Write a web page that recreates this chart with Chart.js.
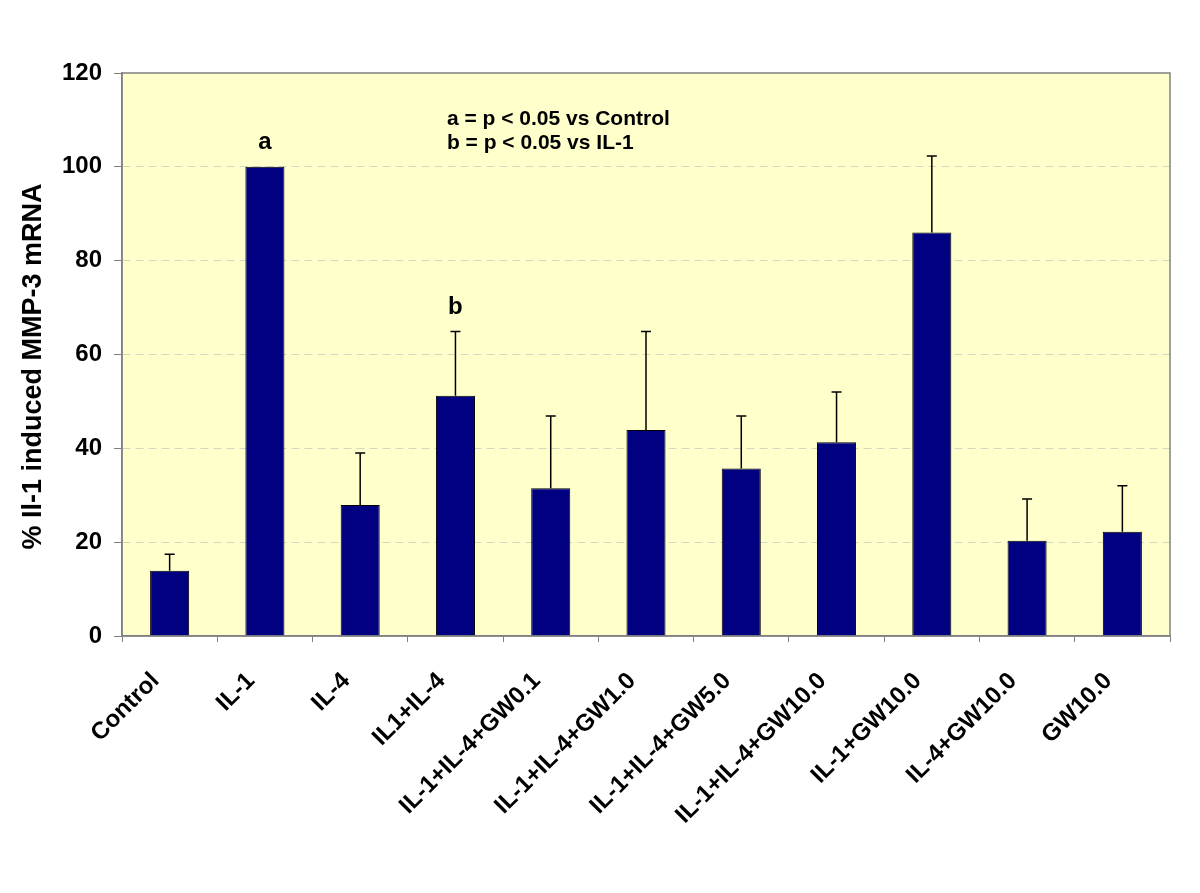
<!DOCTYPE html>
<html>
<head>
<meta charset="utf-8">
<script src="https://cdn.jsdelivr.net/npm/chart.js@4.4.1/dist/chart.umd.min.js"></script>
<style>
  html, body { margin: 0; padding: 0; background: #ffffff; }
  #wrap { width: 1200px; height: 893px; }
</style>
</head>
<body>
<div id="wrap"><canvas id="mmpChart" width="1200" height="893"></canvas></div>
<script>
const categories = ['Control', 'IL-1', 'IL-4', 'IL1+IL-4', 'IL-1+IL-4+GW0.1', 'IL-1+IL-4+GW1.0',
    'IL-1+IL-4+GW5.0', 'IL-1+IL-4+GW10.0', 'IL-1+GW10.0', 'IL-4+GW10.0', 'GW10.0'];
const meanValues = [13.9, 100, 27.9, 51.2, 31.5, 43.9, 35.7, 41.3, 86.0, 20.3, 22.2];
const errorValues = [3.5, 0, 11.1, 13.7, 15.4, 21.0, 11.2, 10.7, 16.3, 8.9, 9.8];
const sigLetters = ['', 'a', '', 'b', '', '', '', '', '', '', ''];
const yTickValues = [0, 20, 40, 60, 80, 100, 120];
const yTitle = '% Il-1 induced MMP-3 mRNA';
const noteLines = ['a = p < 0.05 vs Control', 'b = p < 0.05 vs IL-1'];

const FONT = '"Liberation Sans", Arial, sans-serif';
const PLOT_BG = '#FFFFCC';
const FRAME = '#808080';

// fond jaune + cadre gris de la zone de tracé, titre de l'axe Y
const plotFrame = {
    id: 'plotFrame',
    beforeDraw(chart) {
        const { ctx, chartArea: a } = chart;
        ctx.save();
        ctx.fillStyle = PLOT_BG;
        ctx.fillRect(a.left, a.top, a.right - a.left, a.bottom - a.top);
        ctx.restore();
    },
    afterDraw(chart) {
        const { ctx, chartArea: a } = chart;
        ctx.save();
        ctx.strokeStyle = FRAME;
        ctx.lineWidth = 1.5;
        ctx.strokeRect(a.left, a.top, a.right - a.left, a.bottom - a.top);

        // le titre est un peu plus bas que le milieu dans l'original
        ctx.translate(34, (a.top + a.bottom) / 2 + 12);
        ctx.rotate(-Math.PI / 2);
        ctx.fillStyle = '#000000';
        ctx.font = 'bold 27px ' + FONT;
        ctx.textAlign = 'center';
        ctx.textBaseline = 'middle';
        ctx.fillText(yTitle, 0, 0);
        ctx.restore();
    }
};

// barres d'erreur (vers le haut seulement) et lettres de significativité
const errorBars = {
    id: 'errorBars',
    afterDatasetsDraw(chart) {
        const { ctx, scales: { x, y }, chartArea: a } = chart;
        ctx.save();
        ctx.strokeStyle = '#000000';
        ctx.lineWidth = 1.5;
        meanValues.forEach((v, i) => {
            const cx = x.getPixelForValue(i);
            const top = y.getPixelForValue(v + errorValues[i]);
            if (errorValues[i] > 0) {
                ctx.beginPath();
                ctx.moveTo(cx, y.getPixelForValue(v));
                ctx.lineTo(cx, top);
                ctx.moveTo(cx - 5, top);
                ctx.lineTo(cx + 5, top);
                ctx.stroke();
            }
            if (sigLetters[i]) {
                ctx.fillStyle = '#000000';
                ctx.font = 'bold 24px ' + FONT;
                ctx.textAlign = 'center';
                ctx.textBaseline = 'middle';
                ctx.fillText(sigLetters[i], cx, top - 24);
            }
        });

        ctx.fillStyle = '#000000';
        ctx.font = 'bold 21px ' + FONT;
        ctx.textAlign = 'left';
        ctx.textBaseline = 'middle';
        const nx = a.left + (a.right - a.left) * 0.31;
        noteLines.forEach((t, k) => {
            ctx.fillText(t, nx, a.top + 46 + k * 24);
        });
        ctx.restore();
    }
};

const ctx = document.getElementById('mmpChart').getContext('2d');
const chart = new Chart(ctx, {
    type: 'bar',
    data: {
        labels: categories,
        datasets: [{
            label: yTitle,
            data: meanValues,
            backgroundColor: '#000080',
            borderColor: '#000000',
            borderWidth: 1,
            barPercentage: 0.41,
            categoryPercentage: 1.0
        }]
    },
    options: {
        responsive: false,
        animation: false,
        layout: { padding: { top: 73, right: 30, left: 0, bottom: 0 } },
        plugins: {
            legend: { display: false },
            tooltip: { enabled: false }
        },
        scales: {
            x: {
                afterFit: (scale) => { scale.height = 893 - 636; },
                grid: {
                    drawOnChartArea: false,
                    drawTicks: true,
                    tickLength: 6,
                    tickColor: FRAME,
                    offset: true
                },
                border: { color: FRAME, width: 1.5 },
                ticks: {
                    autoSkip: false,
                    minRotation: 45,
                    maxRotation: 45,
                    padding: 25,
                    labelOffset: -14,
                    color: '#000000',
                    font: { family: FONT, size: 24, weight: 'bold' }
                }
            },
            y: {
                min: 0,
                max: 120,
                afterFit: (scale) => { scale.width = 122; },
                afterBuildTicks: (scale) => { scale.ticks = yTickValues.map(v => ({ value: v })); },
                grid: {
                    color: (c) => (c.tick && (c.tick.value === 0 || c.tick.value === 120)) ? 'rgba(0,0,0,0)' : '#d6d6c2',
                    lineWidth: 1,
                    tickLength: 8,
                    tickColor: FRAME,
                    tickBorderDash: []
                },
                border: { color: FRAME, width: 1.5, dash: [8, 5] },
                ticks: {
                    padding: 12,
                    color: '#000000',
                    font: { family: FONT, size: 24, weight: 'bold' }
                },
                title: { display: false, text: yTitle }
            }
        }
    },
    plugins: [plotFrame, errorBars]
});
</script>
</body>
</html>
